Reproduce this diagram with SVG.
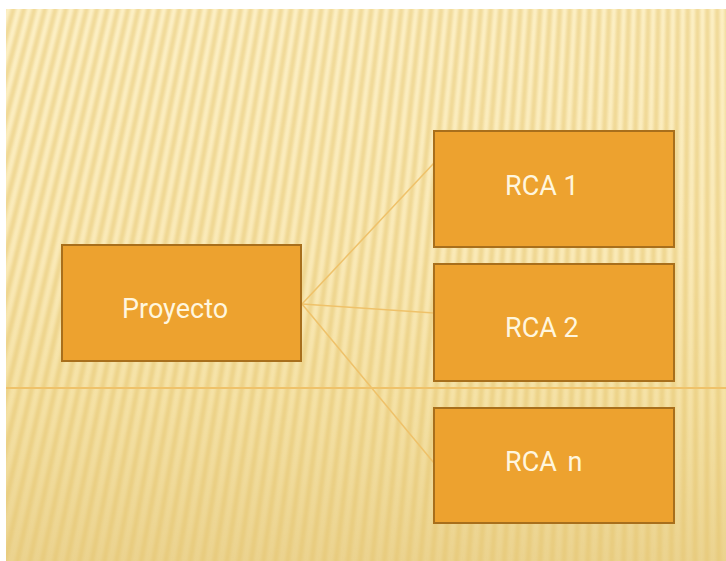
<svg xmlns="http://www.w3.org/2000/svg" width="726" height="561" viewBox="0 0 726 561">
  <defs>
    <linearGradient id="bg" x1="0" y1="0" x2="0" y2="1">
      <stop offset="0" stop-color="#FDF1C8"/>
      <stop offset="0.45" stop-color="#FAEAB8"/>
      <stop offset="0.7" stop-color="#F5E2A6"/>
      <stop offset="1" stop-color="#EBD38F"/>
    </linearGradient>
    <filter id="soft" x="-5%" y="-5%" width="110%" height="110%">
      <feGaussianBlur stdDeviation="1.4"/>
    </filter>
    <clipPath id="area">
      <rect x="6" y="9" width="720" height="552"/>
    </clipPath>
    <style>
      .box { fill: #EDA22F; stroke: #A86F1C; stroke-width: 2; }
      .lbl { font-family: Roboto, "Liberation Sans", sans-serif; font-size: 27px; fill: #FFF6DE; }
      .con { stroke: #EFC26A; stroke-width: 1.5; fill: none; }
    </style>
  </defs>

  <rect width="726" height="561" fill="#FFFFFF"/>
  <g clip-path="url(#area)">
    <rect x="6" y="9" width="720" height="552" fill="url(#bg)"/>
    <circle cx="710" cy="-2600" r="2920" fill="none" stroke="#E6C570" stroke-opacity="0.55" stroke-width="720" stroke-dasharray="5 6" filter="url(#soft)"/>
    <line x1="6" y1="388" x2="726" y2="388" stroke="#EFC26A" stroke-width="1.8"/>
  </g>

  <g id="connectors">
    <line class="con" x1="302" y1="304" x2="434" y2="163"/>
    <line class="con" x1="302" y1="304" x2="434" y2="313"/>
    <line class="con" x1="302" y1="304" x2="434" y2="463"/>
  </g>

  <g id="proyecto">
    <rect class="box" x="62" y="245" width="239" height="116"/>
    <text class="lbl" x="122" y="318">Proyecto</text>
  </g>
  <g id="rca1">
    <rect class="box" x="434" y="131" width="240" height="116"/>
    <text class="lbl" x="505" y="195">RCA 1</text>
  </g>
  <g id="rca2">
    <rect class="box" x="434" y="264" width="240" height="117"/>
    <text class="lbl" x="505" y="337">RCA 2</text>
  </g>
  <g id="rcan">
    <rect class="box" x="434" y="408" width="240" height="115"/>
    <text class="lbl" x="505" y="471">RCA <tspan dx="4">n</tspan></text>
  </g>
</svg>
